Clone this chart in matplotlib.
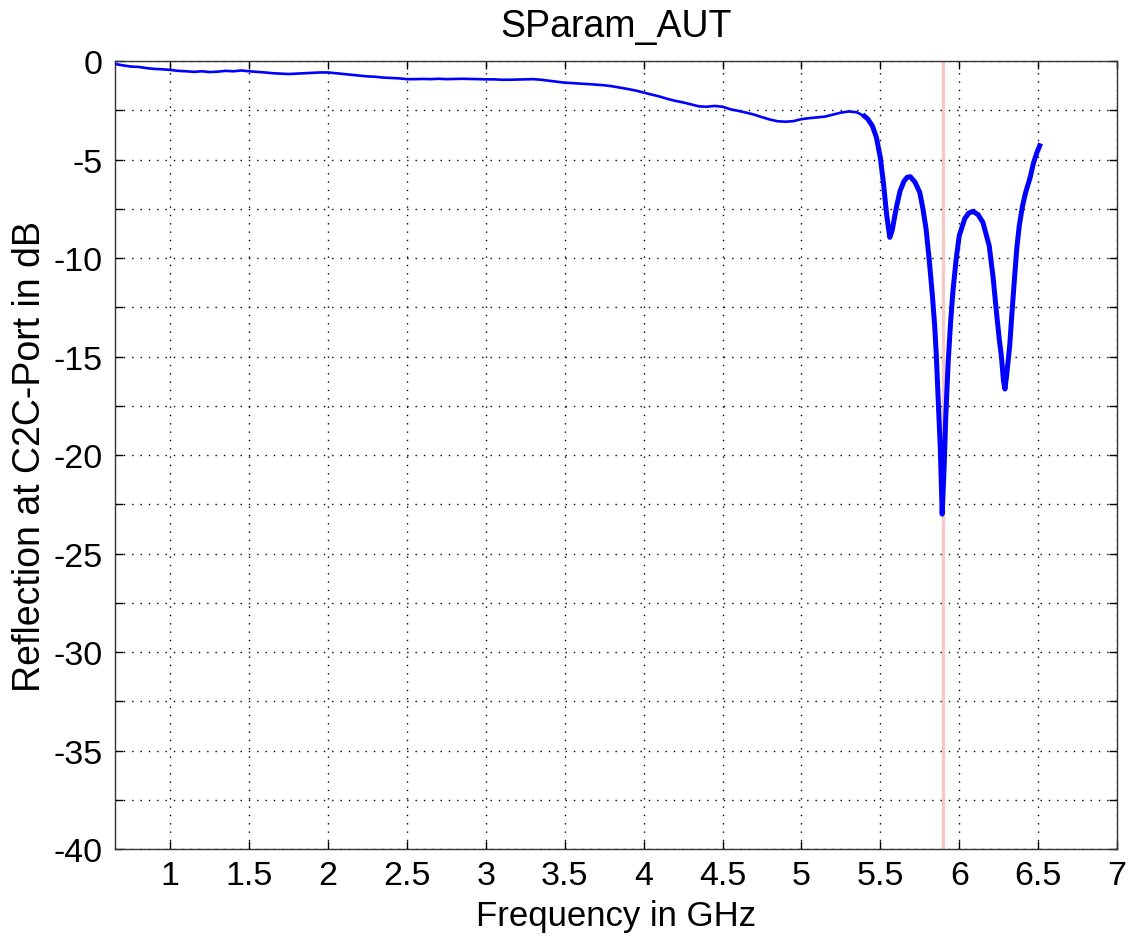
import numpy as np
import matplotlib
matplotlib.use("Agg")
import matplotlib.pyplot as plt
from matplotlib.ticker import MultipleLocator

# ---- data ----
freq_low = [0.65, 0.70, 0.75, 0.80, 0.85, 0.90, 0.95, 1.00, 1.05, 1.10, 1.15, 1.20,
            1.25, 1.30, 1.35, 1.40, 1.45, 1.50, 1.55, 1.60, 1.65, 1.70, 1.75, 1.80,
            1.85, 1.90, 1.95, 2.00, 2.05, 2.10, 2.15, 2.20, 2.25, 2.30, 2.35, 2.40,
            2.45, 2.50, 2.55, 2.60, 2.65, 2.70, 2.75, 2.80, 2.85, 2.90, 2.95, 3.00,
            3.05, 3.10, 3.15, 3.20, 3.25, 3.30, 3.35, 3.40, 3.45, 3.50, 3.55, 3.60,
            3.65, 3.70, 3.75, 3.80, 3.85, 3.90, 3.95, 4.00, 4.05, 4.10, 4.15, 4.20,
            4.25, 4.30, 4.35, 4.40, 4.45, 4.50, 4.55, 4.60, 4.65, 4.70, 4.75, 4.80,
            4.85, 4.90, 4.95, 5.00, 5.05, 5.10, 5.15, 5.20, 5.25, 5.30, 5.35, 5.40]
s11_low = [-0.15, -0.22, -0.28, -0.30, -0.36, -0.40, -0.42, -0.45, -0.50, -0.52, -0.55, -0.52,
           -0.56, -0.54, -0.50, -0.52, -0.48, -0.52, -0.55, -0.58, -0.62, -0.64, -0.66, -0.64,
           -0.62, -0.60, -0.58, -0.58, -0.62, -0.66, -0.70, -0.74, -0.78, -0.80, -0.84, -0.86,
           -0.88, -0.92, -0.92, -0.91, -0.92, -0.90, -0.92, -0.91, -0.90, -0.91, -0.92, -0.93,
           -0.93, -0.95, -0.95, -0.94, -0.93, -0.92, -0.95, -1.00, -1.05, -1.10, -1.12, -1.15,
           -1.17, -1.20, -1.23, -1.28, -1.35, -1.42, -1.50, -1.60, -1.70, -1.80, -1.92, -2.02,
           -2.10, -2.20, -2.30, -2.32, -2.28, -2.32, -2.45, -2.53, -2.62, -2.72, -2.85, -2.97,
           -3.06, -3.08, -3.05, -2.95, -2.90, -2.86, -2.82, -2.72, -2.62, -2.56, -2.60, -2.80]

freq_res = [5.40, 5.42, 5.45, 5.475, 5.50, 5.52, 5.54, 5.56, 5.575, 5.60, 5.625, 5.65,
            5.67, 5.69, 5.72, 5.75, 5.77, 5.79, 5.81, 5.83, 5.845, 5.855, 5.87, 5.88,
            5.892, 5.905, 5.915, 5.93, 5.945, 5.96, 5.98, 6.00, 6.035, 6.06, 6.087, 6.12,
            6.15, 6.19, 6.215, 6.236, 6.255, 6.267, 6.28, 6.29, 6.30, 6.32, 6.335, 6.35,
            6.365, 6.38, 6.40, 6.42, 6.45, 6.47, 6.49, 6.51]
s11_res = [-2.80, -2.94, -3.30, -3.87, -4.90, -6.20, -7.80, -8.95, -8.60, -7.50, -6.60, -6.10,
           -5.90, -5.87, -6.15, -6.67, -7.50, -8.53, -10.10, -11.90, -13.50, -14.96, -17.80, -19.60,
           -23.00, -20.50, -18.00, -15.30, -13.30, -11.70, -10.10, -8.87, -8.00, -7.72, -7.63, -7.80,
           -8.19, -9.37, -11.00, -12.75, -14.20, -14.96, -16.20, -16.65, -16.00, -14.45, -12.70, -11.07,
           -9.50, -8.40, -7.40, -6.70, -5.90, -5.20, -4.70, -4.30]

marker_freq = 5.9
title = "SParam_AUT"
xlabel = "Frequency in GHz"
ylabel = "Reflection at C2C-Port in dB"
xticks = [1, 1.5, 2, 2.5, 3, 3.5, 4, 4.5, 5, 5.5, 6, 6.5, 7]
xticklabels = ["1", "1.5", "2", "2.5", "3", "3.5", "4", "4.5", "5", "5.5", "6", "6.5", "7"]

# ---- plot ----
plt.rcParams['font.family'] = ['Liberation Sans', 'DejaVu Sans']
plt.rcParams['axes.unicode_minus'] = False
fig = plt.figure(figsize=(11.30, 9.37), dpi=100)
ax = fig.add_axes([0.1018, 0.0928, 0.9885 - 0.1018, 0.9338 - 0.0928])

ax.axvline(marker_freq, color='#f7c8c8', lw=2.4, zorder=1)
ax.plot(freq_low, s11_low, color='#0000ff', lw=1.9, zorder=3)
ax.plot(freq_res, s11_res, color='#0000ff', lw=3.6, zorder=3, solid_joinstyle='round')

ax.set_xlim(0.65, 7)
ax.set_ylim(-40, 0)
ax.set_xticks(xticks)
ax.set_xticklabels(xticklabels)
ax.yaxis.set_major_locator(MultipleLocator(5))
ax.yaxis.set_minor_locator(MultipleLocator(2.5))

ax.grid(True, which='both', color='black', linestyle=(0, (1, 5)), lw=1.0)
ax.tick_params(which='both', direction='in', top=True, right=True, length=5.5,
               width=1, labelsize=24.5)
ax.tick_params(axis='x', pad=8)
ax.tick_params(axis='y', pad=9)
for s in ax.spines.values():
    s.set_linewidth(1.0)
    s.set_color('#333333')

ax.set_title(title, fontsize=27, pad=18)
ax.set_xlabel(xlabel, fontsize=25, labelpad=6)
ax.set_ylabel(ylabel, fontsize=27, labelpad=4)

fig.savefig("out.png", dpi=100)
